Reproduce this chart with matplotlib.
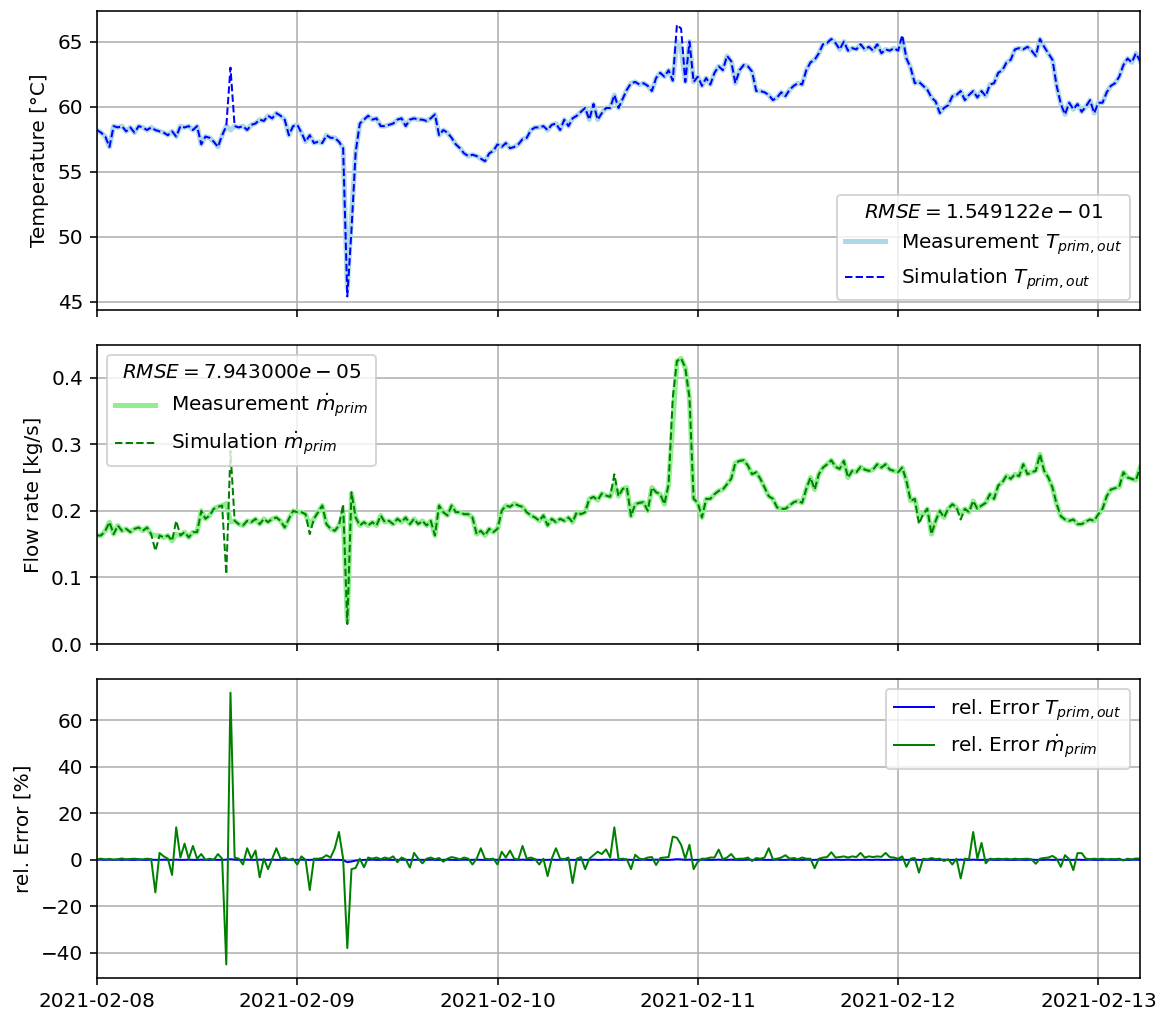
import matplotlib
matplotlib.use('Agg')
import matplotlib.pyplot as plt
import matplotlib.dates as mdates
import pandas as pd

# 30 min samples, 2021-02-08 00:00 .. 2021-02-13 05:00
time = pd.date_range('2021-02-08 00:00', periods=251, freq='30min')

T_meas = [
    58.2, 58.0, 57.7, 56.9, 58.5, 58.4, 58.5, 58.1, 58.4, 58.0, 58.5, 58.4,
    58.2, 58.4, 58.2, 58.1, 58.0, 57.8, 58.1, 57.7, 58.5, 58.4, 58.5, 58.2,
    58.5, 57.1, 57.7, 57.6, 57.3, 56.9, 57.8, 58.5, 58.2, 58.5, 58.4, 58.5,
    58.2, 58.6, 58.7, 59.0, 58.9, 59.3, 59.1, 59.5, 59.3, 59.0, 57.8, 58.5,
    58.6, 58.0, 57.3, 57.8, 57.2, 57.3, 57.2, 57.8, 57.6, 57.6, 57.3, 56.8,
    46.0, 51.5, 56.5, 58.7, 59.0, 59.3, 59.0, 59.1, 58.5, 58.5, 58.6, 58.7,
    59.0, 59.1, 58.5, 59.0, 59.1, 59.0, 59.0, 58.9, 59.1, 59.4, 57.8, 58.2,
    58.0, 57.6, 57.1, 56.8, 56.4, 56.2, 56.3, 56.2, 56.0, 55.8, 56.4, 56.6,
    57.1, 56.9, 57.2, 56.8, 56.9, 57.1, 57.5, 57.6, 58.2, 58.4, 58.4, 58.5,
    58.2, 58.6, 58.7, 58.2, 59.0, 58.5, 59.1, 59.3, 59.6, 59.9, 59.0, 60.2,
    59.0, 59.5, 59.9, 59.9, 60.9, 59.9, 60.6, 61.3, 61.8, 61.9, 61.7, 61.8,
    61.6, 61.2, 62.2, 62.6, 62.3, 62.8, 62.0, 65.0, 64.5, 61.9, 65.0, 61.9,
    62.3, 61.6, 62.2, 61.7, 62.6, 63.1, 62.8, 63.9, 63.5, 61.8, 62.8, 63.2,
    63.1, 62.7, 61.2, 61.2, 61.1, 60.9, 60.5, 60.7, 61.1, 60.8, 61.3, 61.6,
    61.8, 61.7, 62.8, 63.4, 63.6, 64.1, 64.8, 64.9, 65.2, 64.9, 64.4, 65.0,
    64.3, 64.5, 64.4, 64.8, 64.4, 64.6, 64.3, 64.8, 64.1, 64.4, 64.3, 64.5,
    64.3, 65.2, 63.7, 63.0, 61.8, 61.9, 61.6, 61.3, 60.7, 60.4, 59.5, 59.9,
    60.1, 60.8, 60.9, 61.2, 60.5, 60.9, 61.2, 60.7, 61.2, 60.8, 61.7, 61.8,
    62.6, 62.8, 63.4, 63.6, 64.4, 64.5, 64.4, 64.6, 64.3, 63.9, 65.2, 64.6,
    64.1, 63.6, 61.6, 60.2, 59.4, 60.3, 59.8, 60.2, 59.6, 60.0, 60.5, 59.5,
    60.3, 60.3, 61.1, 61.6, 61.8, 62.3, 63.2, 63.7, 63.4, 64.1, 63.5]

T_sim = [
    58.2, 58.0, 57.7, 56.9, 58.5, 58.4, 58.5, 58.1, 58.4, 58.0, 58.5, 58.4,
    58.2, 58.4, 58.2, 58.1, 58.0, 57.8, 58.1, 57.7, 58.5, 58.4, 58.5, 58.2,
    58.5, 57.1, 57.7, 57.6, 57.3, 56.9, 57.8, 58.5, 63.0, 58.5, 58.4, 58.5,
    58.2, 58.6, 58.7, 59.0, 58.9, 59.3, 59.1, 59.5, 59.3, 59.0, 57.8, 58.5,
    58.6, 58.0, 57.3, 57.8, 57.2, 57.3, 57.2, 57.8, 57.6, 57.6, 57.3, 56.8,
    45.4, 50.5, 56.5, 58.7, 59.0, 59.3, 59.0, 59.1, 58.5, 58.5, 58.6, 58.7,
    59.0, 59.1, 58.5, 59.0, 59.1, 59.0, 59.0, 58.9, 59.1, 59.4, 57.8, 58.2,
    58.0, 57.6, 57.1, 56.8, 56.4, 56.2, 56.3, 56.2, 56.0, 55.8, 56.4, 56.6,
    57.1, 56.9, 57.2, 56.8, 56.9, 57.1, 57.5, 57.6, 58.2, 58.4, 58.4, 58.5,
    58.2, 58.6, 58.7, 58.2, 59.0, 58.5, 59.1, 59.3, 59.6, 59.9, 59.0, 60.2,
    59.0, 59.5, 59.9, 59.9, 60.9, 59.9, 60.6, 61.3, 61.8, 61.9, 61.7, 61.8,
    61.6, 61.2, 62.2, 62.6, 62.3, 62.8, 62.0, 66.3, 66.0, 61.9, 65.0, 61.9,
    62.3, 61.6, 62.2, 61.7, 62.6, 63.1, 62.8, 63.9, 63.5, 61.8, 62.8, 63.2,
    63.1, 62.7, 61.2, 61.2, 61.1, 60.9, 60.5, 60.7, 61.1, 60.8, 61.3, 61.6,
    61.8, 61.7, 62.8, 63.4, 63.6, 64.1, 64.8, 64.9, 65.2, 64.9, 64.4, 65.0,
    64.3, 64.5, 64.4, 64.8, 64.4, 64.6, 64.3, 64.8, 64.1, 64.4, 64.3, 64.5,
    64.3, 65.5, 63.7, 63.0, 61.8, 61.9, 61.6, 61.3, 60.7, 60.4, 59.5, 59.9,
    60.1, 60.8, 60.9, 61.2, 60.5, 60.9, 61.2, 60.7, 61.2, 60.8, 61.7, 61.8,
    62.6, 62.8, 63.4, 63.6, 64.4, 64.5, 64.4, 64.6, 64.3, 63.9, 65.2, 64.6,
    64.1, 63.6, 61.6, 60.2, 59.4, 60.3, 59.8, 60.2, 59.6, 60.0, 60.5, 59.5,
    60.3, 60.3, 61.1, 61.6, 61.8, 62.3, 63.2, 63.7, 63.4, 64.1, 63.5]

m_meas = [
    0.163, 0.163, 0.170, 0.183, 0.165, 0.178, 0.170, 0.173, 0.168, 0.173, 0.175, 0.170,
    0.175, 0.165, 0.163, 0.163, 0.160, 0.163, 0.155, 0.165, 0.163, 0.168, 0.160, 0.168,
    0.168, 0.200, 0.188, 0.193, 0.203, 0.206, 0.208, 0.211, 0.183, 0.185, 0.180, 0.178,
    0.185, 0.183, 0.188, 0.180, 0.188, 0.183, 0.188, 0.190, 0.185, 0.175, 0.188, 0.200,
    0.198, 0.198, 0.195, 0.178, 0.188, 0.198, 0.208, 0.180, 0.173, 0.170, 0.178, 0.195,
    0.035, 0.226, 0.190, 0.178, 0.183, 0.178, 0.183, 0.178, 0.193, 0.183, 0.185, 0.180,
    0.188, 0.183, 0.190, 0.180, 0.188, 0.180, 0.185, 0.178, 0.185, 0.163, 0.208, 0.198,
    0.193, 0.208, 0.198, 0.198, 0.195, 0.195, 0.190, 0.165, 0.170, 0.163, 0.173, 0.168,
    0.173, 0.200, 0.208, 0.206, 0.211, 0.208, 0.206, 0.198, 0.193, 0.190, 0.185, 0.193,
    0.178, 0.188, 0.183, 0.188, 0.185, 0.190, 0.183, 0.198, 0.195, 0.198, 0.218, 0.221,
    0.216, 0.226, 0.223, 0.221, 0.240, 0.222, 0.233, 0.235, 0.192, 0.210, 0.212, 0.213,
    0.200, 0.235, 0.228, 0.225, 0.210, 0.240, 0.330, 0.425, 0.429, 0.415, 0.370, 0.218,
    0.212, 0.190, 0.218, 0.218, 0.225, 0.230, 0.232, 0.240, 0.248, 0.272, 0.275, 0.276,
    0.268, 0.255, 0.258, 0.248, 0.235, 0.222, 0.218, 0.205, 0.203, 0.203, 0.208, 0.213,
    0.215, 0.212, 0.233, 0.250, 0.232, 0.255, 0.265, 0.270, 0.276, 0.266, 0.263, 0.275,
    0.250, 0.260, 0.258, 0.266, 0.262, 0.260, 0.262, 0.270, 0.265, 0.270, 0.262, 0.260,
    0.258, 0.265, 0.245, 0.215, 0.218, 0.190, 0.195, 0.203, 0.165, 0.185, 0.200, 0.190,
    0.203, 0.210, 0.205, 0.195, 0.203, 0.198, 0.215, 0.203, 0.208, 0.212, 0.225, 0.218,
    0.238, 0.243, 0.253, 0.248, 0.255, 0.252, 0.270, 0.255, 0.258, 0.260, 0.285, 0.260,
    0.250, 0.235, 0.210, 0.192, 0.187, 0.185, 0.187, 0.180, 0.180, 0.184, 0.187, 0.185,
    0.195, 0.203, 0.222, 0.232, 0.234, 0.236, 0.258, 0.250, 0.248, 0.246, 0.265]

m_sim = [
    0.163, 0.163, 0.170, 0.183, 0.165, 0.178, 0.170, 0.173, 0.168, 0.173, 0.175, 0.170,
    0.175, 0.165, 0.140, 0.163, 0.160, 0.163, 0.155, 0.185, 0.163, 0.168, 0.160, 0.168,
    0.168, 0.200, 0.188, 0.193, 0.203, 0.206, 0.208, 0.105, 0.290, 0.185, 0.180, 0.178,
    0.185, 0.183, 0.188, 0.180, 0.188, 0.183, 0.188, 0.190, 0.185, 0.175, 0.188, 0.200,
    0.198, 0.198, 0.195, 0.165, 0.188, 0.198, 0.208, 0.180, 0.173, 0.170, 0.178, 0.210,
    0.030, 0.228, 0.190, 0.178, 0.183, 0.178, 0.183, 0.178, 0.193, 0.183, 0.185, 0.180,
    0.188, 0.183, 0.190, 0.180, 0.188, 0.180, 0.185, 0.178, 0.185, 0.163, 0.208, 0.198,
    0.193, 0.208, 0.198, 0.198, 0.195, 0.195, 0.190, 0.165, 0.170, 0.163, 0.173, 0.168,
    0.173, 0.200, 0.208, 0.206, 0.211, 0.208, 0.206, 0.198, 0.193, 0.190, 0.185, 0.193,
    0.178, 0.188, 0.183, 0.188, 0.185, 0.190, 0.183, 0.198, 0.195, 0.198, 0.218, 0.221,
    0.216, 0.226, 0.223, 0.221, 0.255, 0.222, 0.233, 0.235, 0.192, 0.210, 0.212, 0.213,
    0.200, 0.235, 0.228, 0.225, 0.210, 0.240, 0.370, 0.425, 0.429, 0.415, 0.370, 0.218,
    0.212, 0.190, 0.218, 0.218, 0.225, 0.230, 0.232, 0.240, 0.248, 0.272, 0.275, 0.276,
    0.268, 0.255, 0.258, 0.248, 0.235, 0.222, 0.218, 0.205, 0.203, 0.203, 0.208, 0.213,
    0.215, 0.212, 0.233, 0.250, 0.232, 0.255, 0.265, 0.270, 0.276, 0.266, 0.263, 0.275,
    0.250, 0.260, 0.258, 0.266, 0.262, 0.260, 0.262, 0.270, 0.265, 0.270, 0.262, 0.260,
    0.258, 0.265, 0.245, 0.215, 0.218, 0.180, 0.195, 0.203, 0.165, 0.185, 0.200, 0.190,
    0.203, 0.210, 0.205, 0.187, 0.203, 0.198, 0.215, 0.203, 0.208, 0.212, 0.225, 0.218,
    0.238, 0.243, 0.253, 0.248, 0.255, 0.252, 0.270, 0.255, 0.258, 0.260, 0.285, 0.260,
    0.250, 0.235, 0.210, 0.192, 0.187, 0.185, 0.187, 0.180, 0.180, 0.184, 0.187, 0.185,
    0.195, 0.203, 0.222, 0.232, 0.234, 0.236, 0.258, 0.250, 0.248, 0.246, 0.265]

err_T = [
    0.1, 0.1, 0.0, 0.1, 0.0, 0.1, 0.0, 0.1, 0.0, 0.0, 0.1, 0.0,
    0.0, 0.1, 0.0, 0.0, 0.1, 0.0, 0.0, 0.1, 0.0, 0.0, 0.1, 0.0,
    0.0, 0.1, 0.0, 0.0, 0.1, 0.0, 0.0, 0.1, 0.3, 0.1, 0.0, 0.0,
    0.1, 0.0, 0.0, 0.1, 0.0, 0.0, 0.1, 0.0, 0.0, 0.1, 0.0, 0.0,
    0.0, 0.1, 0.0, 0.0, 0.1, 0.0, 0.0, 0.0, 0.1, 0.0, 0.0, -0.1,
    -1.0, -0.7, -0.3, -0.1, 0.0, 0.0, 0.1, 0.0, 0.0, 0.1, 0.0, 0.0,
    0.0, 0.1, 0.0, 0.0, 0.0, 0.1, 0.0, 0.0, 0.1, 0.0, 0.0, 0.0,
    0.1, 0.0, 0.0, 0.0, 0.1, 0.0, 0.0, 0.1, 0.0, 0.0, 0.0, 0.1,
    0.0, 0.0, 0.1, 0.0, 0.0, 0.0, 0.1, 0.0, 0.0, 0.1, 0.0, 0.0,
    0.0, 0.1, 0.0, 0.0, 0.1, 0.0, 0.0, 0.0, 0.1, 0.0, 0.0, 0.1,
    0.0, 0.0, 0.1, 0.0, 0.1, 0.0, 0.0, 0.1, 0.0, 0.0, 0.0, 0.1,
    0.0, 0.0, 0.1, 0.0, 0.0, 0.0, 0.1, 0.3, 0.2, 0.0, 0.1, 0.0,
    0.0, 0.1, 0.0, 0.0, 0.0, 0.1, 0.0, 0.0, 0.1, 0.0, 0.0, 0.0,
    0.1, 0.0, 0.0, 0.1, 0.0, 0.0, 0.0, 0.1, 0.0, 0.0, 0.1, 0.0,
    0.0, 0.0, 0.1, 0.0, 0.0, 0.1, 0.0, 0.0, 0.0, 0.1, 0.0, 0.0,
    0.1, 0.0, 0.0, 0.0, 0.1, 0.0, 0.0, 0.1, 0.0, 0.0, 0.0, 0.1,
    0.0, 0.2, 0.0, 0.0, 0.1, 0.0, 0.0, 0.0, 0.1, 0.0, 0.0, 0.1,
    0.0, 0.0, 0.0, 0.1, 0.0, 0.0, 0.1, 0.0, 0.0, 0.0, 0.1, 0.0,
    0.0, 0.1, 0.0, 0.0, 0.0, 0.1, 0.0, 0.0, 0.1, 0.0, 0.0, 0.0,
    0.1, 0.0, 0.0, 0.1, 0.0, 0.0, 0.0, 0.1, 0.0, 0.0, 0.1, 0.0,
    0.0, 0.0, 0.1, 0.0, 0.0, 0.1, 0.0, 0.0, 0.0, 0.1, 0.0]

err_m = [
    0.3, 0.5, 0.2, 0.4, 0.1, 0.3, 0.6, 0.2, 0.4, 0.5, 0.3, 0.2,
    0.5, 0.3, -14.0, 3.0, 1.5, 0.5, -6.5, 14.0, 1.0, 7.0, 0.5, 6.0,
    0.5, 2.5, 0.0, 0.5, 0.0, 2.5, 0.5, -45.0, 72.0, 1.0, 0.5, -2.0,
    5.0, 0.5, 4.0, -7.5, 0.5, -4.0, 0.5, 5.0, 0.5, 1.0, 0.0, 0.5,
    -2.0, 1.5, 0.0, -13.0, 0.5, 0.5, 0.8, 2.0, 1.0, 5.0, 12.0, 0.5,
    -38.0, -4.0, -3.5, 0.5, -3.2, 1.0, 0.5, 1.0, 0.3, 1.0, 0.5, 1.5,
    -1.0, 1.0, 0.2, -3.3, 3.0, 0.5, -1.5, 0.5, 1.0, 0.3, 0.8, -0.8,
    0.5, 1.2, 0.8, 0.2, 1.0, 0.5, -2.0, 0.5, 5.0, 0.5, 0.3, 0.5,
    -2.0, 3.5, 1.0, 4.0, 0.5, 0.2, 6.0, 0.5, 1.0, 0.3, -2.0, 0.5,
    -7.0, 0.5, 5.0, 0.5, 0.3, 1.0, -10.0, 0.5, 1.2, -4.0, 0.5, 2.0,
    3.5, 2.5, 4.5, 1.0, 14.0, 0.3, 0.5, 0.2, -4.0, 2.2, 0.5, 0.3,
    1.0, 1.2, -2.2, 0.8, 1.0, 1.2, 10.0, 9.5, 6.5, 0.5, 6.5, -4.0,
    -0.8, 0.5, 0.5, 1.0, 1.0, 4.4, 0.3, 1.0, 2.5, 0.3, 0.5, 0.5,
    1.0, -0.5, 0.8, 0.5, 1.0, 5.0, 0.2, 0.5, 1.0, 2.0, 0.5, 0.8,
    0.3, 1.0, 0.5, 0.5, -3.6, 0.5, 1.0, 1.2, 3.3, 1.0, 1.2, 1.5,
    1.0, 1.5, 1.2, 3.0, 1.0, 1.5, 1.2, 1.5, 1.3, 3.0, 1.2, 1.0,
    0.5, 1.5, -3.0, 0.5, 0.8, -5.5, 0.5, 0.2, 0.8, 0.3, 0.5, -0.5,
    0.3, -2.0, 0.5, -8.0, 0.5, 0.3, 12.0, 0.5, 7.3, -1.5, 0.5, 0.3,
    0.5, 0.3, 0.5, 0.2, 0.5, 0.3, 0.4, 0.5, 0.2, -1.7, 0.5, 0.8,
    1.0, 1.7, 0.5, -3.0, 2.0, 0.3, -4.4, 2.9, 2.9, 0.5, 0.3, 0.5,
    0.3, 0.5, 0.2, 0.4, 0.3, 0.5, -0.3, 0.5, 0.2, 0.6, 0.5]

rmse_T = '1.549122e-01'
rmse_m = '7.943000e-05'

fig, (ax1, ax2, ax3) = plt.subplots(3, 1, sharex=True, figsize=(1161 / 144, 1010 / 144), dpi=144)
fig.subplots_adjust(left=0.0835, right=0.982, bottom=0.0317, top=0.989, hspace=0.117)

# temperature
ax1.plot(time, T_meas, color='lightblue', linewidth=2.5, label=r'Measurement $T_{prim,out}$')
ax1.plot(time, T_sim, color='blue', linestyle='--', linewidth=1, label=r'Simulation $T_{prim,out}$')
ax1.set_ylabel('Temperature [°C]')
ax1.grid(True)
ax1.legend(loc='lower right', title=r'$RMSE = ' + rmse_T + '$')

# flow rate
ax2.plot(time, m_meas, color='lightgreen', linewidth=2.5, label=r'Measurement $\dot{m}_{prim}$')
ax2.plot(time, m_sim, color='green', linestyle='--', linewidth=1, label=r'Simulation $\dot{m}_{prim}$')
ax2.set_ylabel('Flow rate [kg/s]')
ax2.set_ylim(bottom=0)
ax2.grid(True)
ax2.legend(loc='upper left', title=r'$RMSE = ' + rmse_m + '$')

# relative error
ax3.plot(time, err_T, color='blue', linewidth=1, label=r'rel. Error $T_{prim,out}$')
ax3.plot(time, err_m, color='green', linewidth=1, label=r'rel. Error $\dot{m}_{prim}$')
ax3.set_ylabel('rel. Error [%]')
ax3.grid(True)
ax3.legend(loc='upper right')

ax3.set_xlim(time[0], time[-1])
ax3.xaxis.set_major_locator(mdates.DayLocator())
ax3.xaxis.set_major_formatter(mdates.DateFormatter('%Y-%m-%d'))

fig.savefig('out.png', dpi=144)
